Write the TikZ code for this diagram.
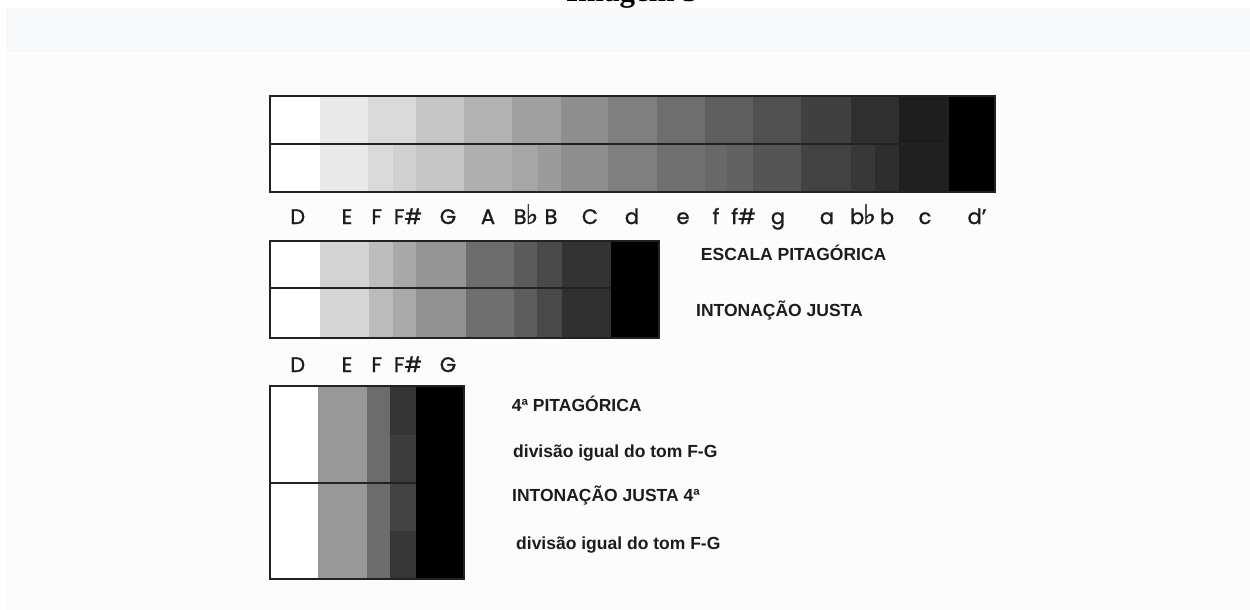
\documentclass[tikz,border=0pt]{standalone}
\usepackage{fontspec}
\setmainfont{Liberation Sans}
\newfontfamily\notefont{Poppins}[FakeBold=1.2]
\newfontfamily\symfont{DejaVu Sans}[FakeBold=1.2]
\newfontfamily\titlefont{Liberation Serif}
\definecolor{bandcol}{HTML}{F7F8FA}
\definecolor{lowcol}{HTML}{FCFCFC}
\definecolor{framecol}{HTML}{222222}
\definecolor{txtcol}{HTML}{1C1C1C}
\tikzset{
  frame/.style={draw=framecol, line width=1.3pt},
  note/.style={anchor=base, inner sep=0pt, text=txtcol, font=\notefont\fontsize{21}{21}\selectfont},
  lbl/.style={anchor=base west, inner sep=0pt, text=txtcol, font=\bfseries\fontsize{17.5}{17.5}\selectfont},
  ttl/.style={anchor=base, inner sep=0pt, text=black, font=\titlefont\bfseries\fontsize{31}{31}\selectfont}
}
\newcommand\flatsym{{\symfont\fontsize{27}{27}\selectfont\char"266D}}
\begin{document}
\begin{tikzpicture}[x=1pt,y=-1pt]
\useasboundingbox (0,0) rectangle (1250,610);
\fill[white] (0,0) rectangle (1250,610);
\fill[bandcol] (6,8) rectangle (1250,52);
\fill[lowcol] (6,52) rectangle (1250,610);
\begin{scope}
\clip (0,0) rectangle (1250,14);
\node[ttl] (title) at (632,2) {Imagem 3};
\end{scope}

% ---------- figure 1 ----------
\foreach \a/\b/\v in {270/320/255,320/368/233,368/416/218,416/464/198,464/512/178,512/561/160,561/608/142,608/657/128,657/705/110,705/753/94,753/801/80,801/851/64,851/899/47,899/949/30}
  \fill[fill={rgb,255:red,\v;green,\v;blue,\v}] (\a,96) rectangle (\b,144);
\foreach \a/\b/\v in {270/320/255,320/368/233,368/393/218,393/416/208,416/464/198,464/512/175,512/538/166,538/561/155,561/608/142,608/657/128,657/705/112,705/727/104,727/753/97,753/801/85,801/851/66,851/875/56,875/899/46,899/949/32}
  \fill[fill={rgb,255:red,\v;green,\v;blue,\v}] (\a,144) rectangle (\b,192);
\fill[black] (949,96) rectangle (995,192);
\draw[frame] (270,96) rectangle (995,192);
\draw[frame] (270,144) -- (949,144);

\node[note] (n1) at (297.7,224) {D};
\node[note] (n2) at (347,224) {E};
\node[note] (n3) at (376.7,224) {F};
\node[note] (n4) at (408,224) {F\#};
\node[note] (n5) at (448,224) {G};
\node[note] (n6) at (488,224) {A};
\node[note] (n7) at (526,224) {B\kern-1pt\flatsym};
\node[note] (n8) at (551,224) {B};
\node[note] (n9) at (590,224) {C};
\node[note] (n10) at (632,224) {d};
\node[note] (n11) at (683,224) {e};
\node[note] (n12) at (716,224) {f};
\node[note] (n13) at (743.5,224) {f\#};
\node[note] (n14) at (778,224) {g};
\node[note] (n15) at (827,224) {a};
\node[note] (n16) at (863,224) {b\kern-1pt\flatsym};
\node[note] (n17) at (887,224) {b};
\node[note] (n18) at (925,224) {c};
\node[note] (n19) at (977,224) {d’};

% ---------- figure 2 ----------
\foreach \a/\b/\v in {270/320/255,320/369/212,369/393/189,393/416/168,416/466/149,466/514/109,514/537/91,537/562/74,562/611/51}
  \fill[fill={rgb,255:red,\v;green,\v;blue,\v}] (\a,241) rectangle (\b,288);
\foreach \a/\b/\v in {270/320/255,320/369/214,369/393/187,393/416/170,416/466/146,466/514/111,514/537/93,537/562/73,562/611/48}
  \fill[fill={rgb,255:red,\v;green,\v;blue,\v}] (\a,288) rectangle (\b,338);
\fill[black] (611,241) rectangle (659,338);
\draw[frame] (270,241) rectangle (659,338);
\draw[frame] (270,288) -- (611,288);

\node[lbl] (escpit) at (700.7,260) {ESCALA PITAGÓRICA};
\node[lbl] (intjus) at (696,316.7) {INTONAÇÃO JUSTA};

\node[note] (m1) at (297.7,372) {D};
\node[note] (m2) at (347,372) {E};
\node[note] (m3) at (376.7,372) {F};
\node[note] (m4) at (408,372) {F\#};
\node[note] (m5) at (448,372) {G};

% ---------- figure 3 ----------
\fill[white] (270,386) rectangle (318,579);
\fill[fill={rgb,255:red,152;green,152;blue,152}] (318,386) rectangle (367,579);
\fill[fill={rgb,255:red,108;green,108;blue,108}] (367,386) rectangle (390,579);
\fill[fill={rgb,255:red,52;green,52;blue,52}] (390,386) rectangle (416,434.5);
\fill[fill={rgb,255:red,60;green,60;blue,60}] (390,434.5) rectangle (416,483);
\fill[fill={rgb,255:red,67;green,67;blue,67}] (390,483) rectangle (416,531);
\fill[fill={rgb,255:red,54;green,54;blue,54}] (390,531) rectangle (416,579);
\fill[black] (416,386) rectangle (464,579);
\draw[frame] (270,386) rectangle (464,579);
\draw[frame] (270,483) -- (416,483);

\node[lbl] (quartpit) at (511.7,411.7) {4ª PITAGÓRICA};
\node[lbl] (div1) at (513,457.7) {divisão igual do tom F-G};
\node[lbl] (intjus4) at (512,501.7) {INTONAÇÃO JUSTA 4ª};
\node[lbl] (div2) at (516,549.3) {divisão igual do tom F-G};
\end{tikzpicture}
\end{document}
